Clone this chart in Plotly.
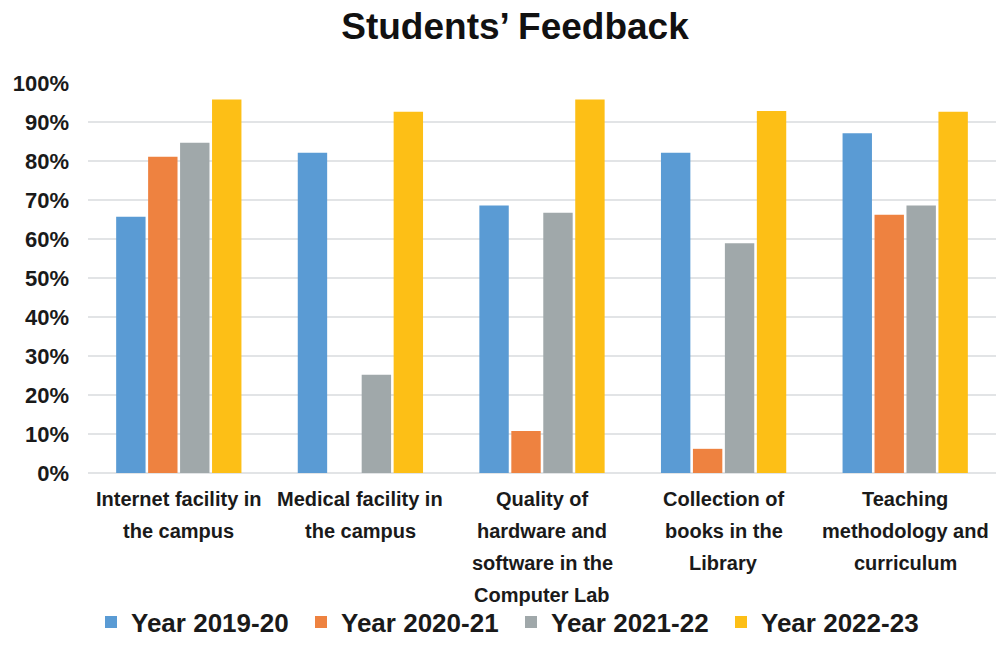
import plotly.graph_objects as go

categories = [
    ["Internet facility in", "the campus"],
    ["Medical facility in", "the campus"],
    ["Quality of", "hardware and", "software in the", "Computer Lab"],
    ["Collection of", "books in the", "Library"],
    ["Teaching", "methodology and", "curriculum"],
]
series_names = ["Year 2019-20", "Year 2020-21", "Year 2021-22", "Year 2022-23"]
y2019_20 = [0.657, 0.821, 0.686, 0.821, 0.871]
y2020_21 = [0.811, None, 0.108, 0.062, 0.662]
y2021_22 = [0.847, 0.252, 0.667, 0.589, 0.686]
y2022_23 = [0.958, 0.926, 0.958, 0.928, 0.926]
tick_vals = [i / 10 for i in range(11)]
tick_text = [f"{i*10}%" for i in range(11)]

colors = ["#5A9BD4", "#EE8240", "#A0A8AA", "#FDBF16"]
series_values = [y2019_20, y2020_21, y2021_22, y2022_23]

sans = "Liberation Sans, Arial, sans-serif"

fig = go.Figure()
x_idx = list(range(len(categories)))
for name, vals, col in zip(series_names, series_values, colors):
    fig.add_trace(go.Bar(name=name, x=x_idx, y=vals, marker=dict(color=col, line=dict(width=0))))

# category labels, one annotation per line for Excel-like line spacing
for i, lines in enumerate(categories):
    for j, line in enumerate(lines):
        fig.add_annotation(x=i, y=0, xref="x", yref="y", text=line, showarrow=False,
                           xanchor="center", yanchor="middle", yshift=-(26 + 32 * j),
                           font=dict(family=sans, size=20, color="#1a1a1a", weight="bold"))

fig.update_layout(
    width=1003, height=657,
    paper_bgcolor="white", plot_bgcolor="white",
    barmode="group", bargap=0.296, bargroupgap=0.08,
    margin=dict(l=88, r=7, t=83, b=184, autoexpand=False),
    title=dict(text="Students’ Feedback", x=515/1003, xanchor="center",
               y=1 - 26/657, yanchor="middle",
               font=dict(family=sans, size=37, color="#111111", weight="bold")),
    xaxis=dict(tickmode="array", tickvals=x_idx, ticktext=[""] * len(x_idx), range=[-0.5, 4.5],
               showgrid=False, showline=False, zeroline=False, ticks="", automargin=False),
    yaxis=dict(range=[0, 1.0], tickvals=tick_vals, ticktext=tick_text, automargin=False,
               showgrid=True, gridcolor="#E2E4E6", gridwidth=2,
               zeroline=True, zerolinecolor="#E2E4E6", zerolinewidth=2,
               showline=False, ticks="", ticklabelstandoff=18,
               tickfont=dict(family=sans, size=22, color="#1a1a1a", weight="bold")),
    legend=dict(orientation="h", xref="container", yref="container",
                x=91/1003, xanchor="left", y=1 - 622/657, yanchor="middle",
                entrywidth=165, entrywidthmode="pixels",
                font=dict(family=sans, size=26, color="#1a1a1a", weight="bold"),
                bgcolor="rgba(0,0,0,0)"),
    showlegend=True,
)

fig.write_html("out.html", config={"displayModeBar": False},
               post_script="document.body.style.margin='0px';")
